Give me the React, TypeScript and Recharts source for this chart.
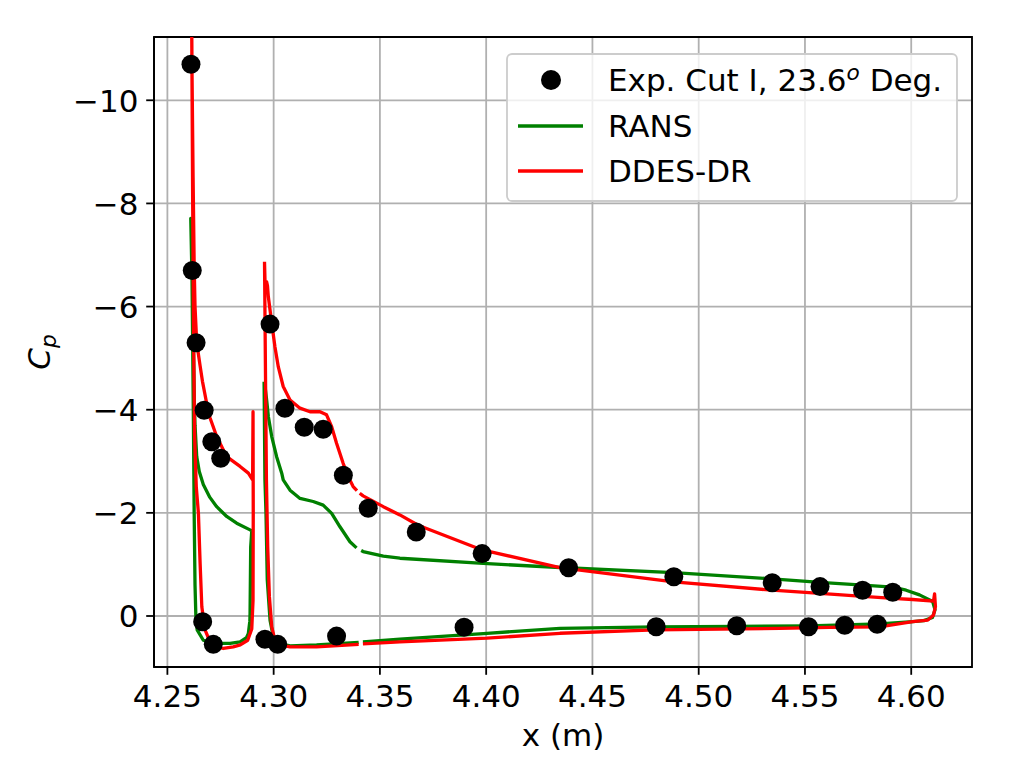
import {
  CartesianGrid,
  ComposedChart,
  Label,
  Legend,
  Line,
  ReferenceArea,
  Scatter,
  XAxis,
  YAxis,
} from 'recharts'

type Pt = [number, number | null]

const xTicks = [4.25, 4.3, 4.35, 4.4, 4.45, 4.5, 4.55, 4.6]
const cpTicks = [-10, -8, -6, -4, -2, 0]
const xDomain: [number, number] = [4.2437, 4.6286]
const cpDomain: [number, number] = [-11.227, 0.989]

// experiment, suction side and pressure side
const expUpper: Pt[] = [
  [4.2611, -10.7], [4.2617, -6.7], [4.2635, -5.3], [4.2673, -3.99], [4.2709, -3.38],
  [4.2751, -3.06], [4.2983, -5.66], [4.3053, -4.03], [4.3144, -3.66], [4.3233, -3.62],
  [4.3328, -2.73], [4.3445, -2.09], [4.3671, -1.63], [4.3981, -1.21], [4.4388, -0.935],
  [4.4883, -0.76], [4.5346, -0.645], [4.5571, -0.57], [4.5771, -0.5], [4.5913, -0.46],
]
const expLower: Pt[] = [
  [4.2666, 0.11], [4.2716, 0.55], [4.2959, 0.45], [4.3019, 0.55], [4.3296, 0.39],
  [4.3896, 0.22], [4.48, 0.21], [4.5179, 0.19], [4.5517, 0.21], [4.5687, 0.18], [4.584, 0.16],
]

// RANS
const ransSlat: Pt[] = [
  [4.2897, -1.65], [4.2889, -1.67], [4.2826, -1.8], [4.2779, -1.93], [4.2732, -2.12],
  [4.27, -2.3], [4.2669, -2.55], [4.265, -2.8], [4.2638, -3.09], [4.263, -3.7],
  [4.2627, -4.12], [4.2622, -5.42], [4.2617, -6.71], [4.261, -7.71],
  [4.2616, -6.5], [4.2622, -4.0], [4.2626, -2.0], [4.263, -0.6], [4.2634, 0.0],
  [4.264, 0.27], [4.2669, 0.47], [4.2716, 0.53], [4.2738, 0.53], [4.2742, 0.44],
  [4.2746, 0.53], [4.2795, 0.53], [4.2842, 0.5], [4.2872, 0.42], [4.2881, 0.34],
  [4.2888, 0.1], [4.2889, -0.05], [4.2892, -1.34], [4.2897, -1.65],
]
const ransMain: Pt[] = [
  [4.2955, -4.54], [4.2961, -4.4], [4.2967, -4.19], [4.2975, -3.87], [4.2991, -3.48],
  [4.3014, -3.09], [4.3038, -2.77], [4.3045, -2.64], [4.3077, -2.44], [4.3124, -2.28],
  [4.3186, -2.22], [4.3233, -2.15], [4.3273, -1.99], [4.3312, -1.73], [4.3359, -1.44],
  [4.339, -1.32], [4.34, null], [4.3412, -1.27], [4.3421, -1.25], [4.3516, -1.16],
  [4.3594, -1.12], [4.3986, -1.02], [4.4347, -0.94], [4.4883, -0.84], [4.5346, -0.72],
  [4.5571, -0.65], [4.5773, -0.6], [4.5913, -0.56], [4.5976, -0.5], [4.6039, -0.41],
  [4.6101, -0.28], [4.6112, -0.12], [4.61, 0.03], [4.606, 0.09], [4.6007, 0.11],
  [4.5851, 0.155], [4.5517, 0.19], [4.5179, 0.2], [4.4797, 0.21], [4.4347, 0.24],
  [4.4004, 0.335], [4.3594, 0.45], [4.342, 0.5], [4.341, null], [4.34, 0.51],
  [4.3202, 0.56], [4.3077, 0.58], [4.3022, 0.53], [4.2998, 0.4], [4.2983, 0.08],
  [4.297, -0.7], [4.2964, -1.99], [4.2959, -2.64], [4.2955, -4.54],
]

// DDES-DR
const ddesSlat: Pt[] = [
  [4.2901, -2.64], [4.2881, -2.77], [4.2842, -2.9], [4.2779, -3.09], [4.2732, -3.48],
  [4.27, -3.85], [4.2685, -4.12], [4.2665, -4.55], [4.2654, -4.85], [4.2638, -5.3],
  [4.263, -6.0], [4.2626, -6.8], [4.2621, -8.5], [4.2616, -10.5], [4.2613, -12.5],
  [4.2615, -11.0], [4.2619, -8.0], [4.2623, -5.5], [4.2628, -3.5], [4.2636, -2.5],
  [4.2646, -1.99], [4.2654, -1.02], [4.2662, -0.18], [4.2677, 0.27], [4.2701, 0.5],
  [4.2732, 0.6], [4.2763, 0.63], [4.281, 0.6], [4.2843, 0.56], [4.2878, 0.47],
  [4.2897, 0.25], [4.2903, -0.3], [4.2904, -2.0], [4.2903, -3.96], [4.2901, -2.64],
]
const ddesMain: Pt[] = [
  [4.2957, -6.87], [4.296, -6.4], [4.2964, -6.3], [4.2967, -6.48], [4.2971, -6.4],
  [4.2975, -6.19], [4.2991, -5.68], [4.3006, -5.22], [4.3022, -4.83], [4.3045, -4.45],
  [4.3077, -4.19], [4.3124, -4.03], [4.3171, -3.96], [4.3218, -3.96], [4.3249, -3.9],
  [4.3273, -3.67], [4.3296, -3.35], [4.3327, -2.96], [4.3351, -2.7], [4.3374, -2.51],
  [4.3392, -2.43], [4.34, null], [4.3405, -2.38], [4.3421, -2.33], [4.3516, -2.12],
  [4.3594, -1.96], [4.368, -1.76], [4.3981, -1.28], [4.4347, -0.94], [4.4883, -0.66],
  [4.5346, -0.5], [4.5571, -0.44], [4.5773, -0.38], [4.5914, -0.34], [4.6007, -0.32],
  [4.6105, -0.29], [4.611, -0.43], [4.6114, -0.18], [4.6105, -0.02], [4.6078, 0.08],
  [4.6007, 0.11], [4.5851, 0.21], [4.5616, 0.22], [4.5381, 0.24], [4.4797, 0.27],
  [4.4347, 0.335], [4.4004, 0.43], [4.3594, 0.5], [4.342, 0.54], [4.341, null],
  [4.34, 0.55], [4.3202, 0.6], [4.3077, 0.6], [4.303, 0.56], [4.3006, 0.47],
  [4.2991, 0.21], [4.298, -0.37], [4.2972, -1.34], [4.2966, -2.64], [4.2962, -4.5],
  [4.2957, -6.87],
]

const FONT = 'DejaVu Sans'
const FS = 31
const GREEN = '#008000'
const RED = '#ff0000'
const LW = 3.3

const rows = (pts: Pt[]) => pts.map(([x, cp]) => ({ x, cp }))

const fmtCp = (v: number) => (v < 0 ? '\u2212' + Math.abs(v) : String(v))

function XTick({ x, y, payload }: any) {
  return (
    <text x={x} y={y} dy={32.5} textAnchor="middle" fontFamily={FONT} fontSize={FS} fill="#000">
      {payload.value.toFixed(2)}
    </text>
  )
}

function YTick({ x, y, payload }: any) {
  return (
    <text x={x} y={y} dy={11.3} textAnchor="end" fontFamily={FONT} fontSize={FS} fill="#000">
      {fmtCp(payload.value)}
    </text>
  )
}

function Dot({ cx, cy }: any) {
  return <circle cx={cx} cy={cy} r={9.5} fill="#000" />
}

function LegendBox() {
  const text = { fontFamily: FONT, fontSize: FS, fill: '#000' }
  return (
    <svg width={452} height={149} style={{ display: 'block' }}>
      <rect x={1} y={1} width={450} height={147} rx={5} fill="#fff" fillOpacity={0.8}
        stroke="#cccccc" strokeWidth={1.8} />
      <circle cx={45} cy={27} r={10} fill="#000" />
      <line x1={12} x2={77} y1={73} y2={73} stroke={GREEN} strokeWidth={LW} />
      <line x1={12} x2={77} y1={118} y2={118} stroke={RED} strokeWidth={LW} />
      <text x={102} y={37.5} {...text}>
        Exp. Cut I, 23.6
        <tspan fontStyle="italic" fontSize={21.7} dy={-10.5}>o</tspan>
        <tspan dy={10.5}> Deg.</tspan>
      </text>
      <text x={102} y={83.5} {...text}>RANS</text>
      <text x={102} y={128.5} {...text}>DDES-DR</text>
    </svg>
  )
}

export default function App() {
  return (
    <div style={{ position: 'absolute', left: 0, top: 0, width: 1024, height: 768, background: '#fff' }}>
      <ComposedChart width={1024} height={768} margin={{ top: 37, right: 52, bottom: 41, left: 34 }}>
        <CartesianGrid stroke="#b0b0b0" strokeWidth={1.8} />
        <XAxis
          type="number"
          dataKey="x"
          domain={xDomain}
          ticks={xTicks}
          allowDataOverflow
          height={60}
          tickSize={7.8}
          tickMargin={0}
          tick={<XTick />}
          axisLine={{ stroke: '#000', strokeWidth: 1.8 }}
          tickLine={{ stroke: '#000', strokeWidth: 1.8 }}
        >
          <Label
            content={() => (
              <text x={563} y={746} textAnchor="middle" fontFamily={FONT} fontSize={FS} fill="#000">
                x (m)
              </text>
            )}
          />
        </XAxis>
        <YAxis
          type="number"
          dataKey="cp"
          domain={cpDomain}
          ticks={cpTicks}
          reversed
          allowDataOverflow
          width={120}
          tickSize={7.8}
          tickMargin={7.8}
          tick={<YTick />}
          axisLine={{ stroke: '#000', strokeWidth: 1.8 }}
          tickLine={{ stroke: '#000', strokeWidth: 1.8 }}
        >
          <Label
            content={() => (
              <text transform="translate(50,352) rotate(-90)" textAnchor="middle"
                fontFamily={FONT} fontSize={FS} fontStyle="italic" fill="#000">
                C<tspan fontSize={21.7} dy={6}>p</tspan>
              </text>
            )}
          />
        </YAxis>
        <Scatter data={rows(expUpper)} dataKey="cp" shape={<Dot />} isAnimationActive={false} />
        <Scatter data={rows(expLower)} dataKey="cp" shape={<Dot />} isAnimationActive={false} />
        <Line data={rows(ransSlat)} dataKey="cp" type="linear" stroke={GREEN} strokeWidth={LW}
          dot={false} activeDot={false} isAnimationActive={false} strokeLinejoin="round" />
        <Line data={rows(ransMain)} dataKey="cp" type="linear" stroke={GREEN} strokeWidth={LW}
          dot={false} activeDot={false} isAnimationActive={false} strokeLinejoin="round" />
        <Line data={rows(ddesSlat)} dataKey="cp" type="linear" stroke={RED} strokeWidth={LW}
          dot={false} activeDot={false} isAnimationActive={false} strokeLinejoin="round" />
        <Line data={rows(ddesMain)} dataKey="cp" type="linear" stroke={RED} strokeWidth={LW}
          dot={false} activeDot={false} isAnimationActive={false} strokeLinejoin="round" />
        <ReferenceArea x1={xDomain[0]} x2={xDomain[1]} y1={cpDomain[0]} y2={cpDomain[1]}
          fill="none" stroke="#000" strokeWidth={1.8} ifOverflow="visible" />
        <Legend
          content={<LegendBox />}
          layout="horizontal"
          verticalAlign="middle"
          align="center"
          wrapperStyle={{ left: 506, top: 53, width: 452, height: 149 }}
        />
      </ComposedChart>
    </div>
  )
}
